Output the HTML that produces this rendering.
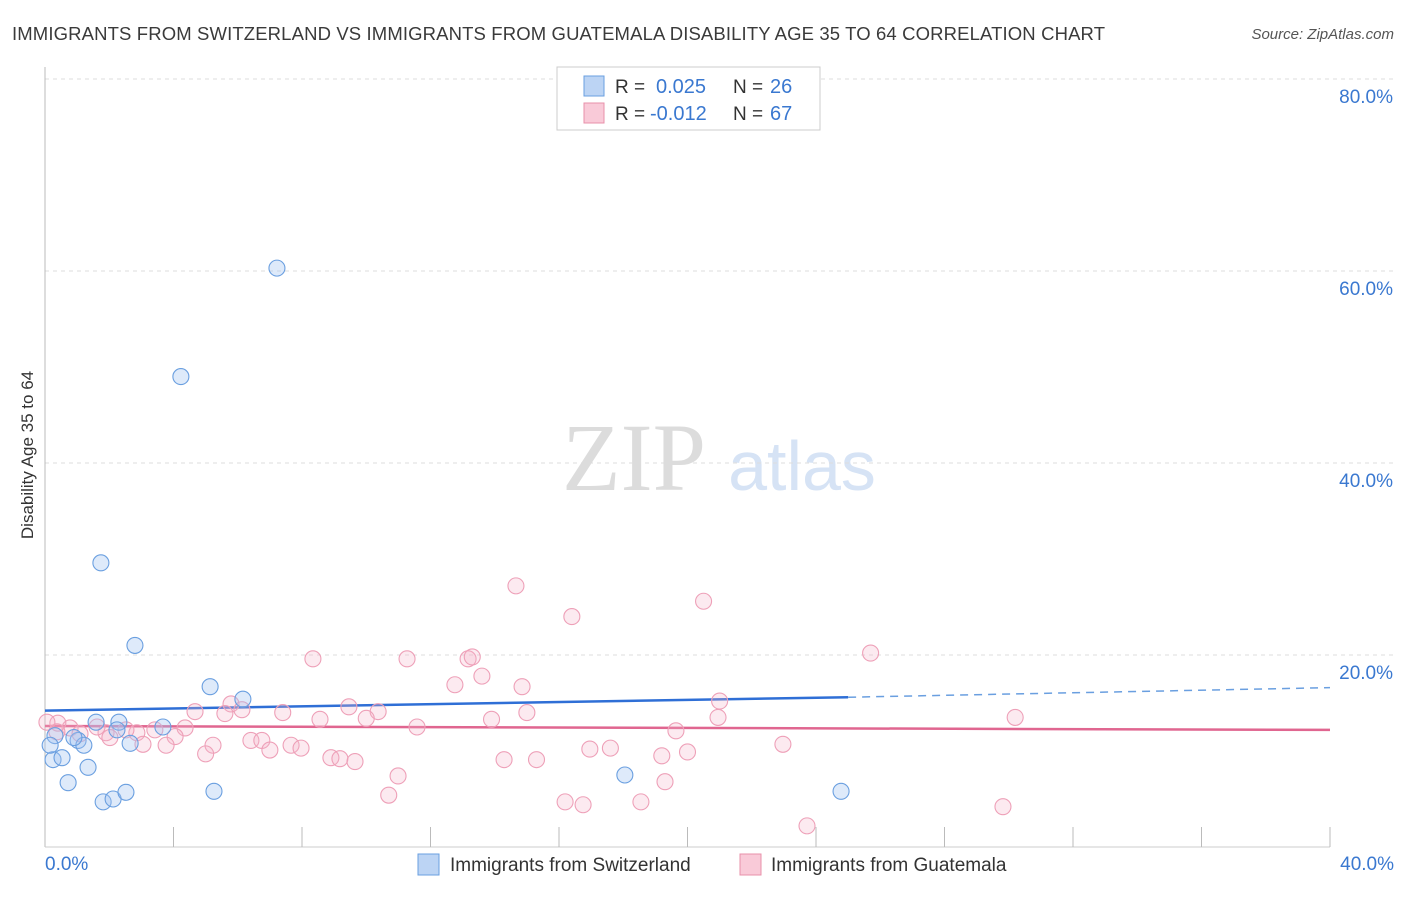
<!DOCTYPE html>
<html><head><meta charset="utf-8">
<style>
body{margin:0;background:#fff;font-family:"Liberation Sans",sans-serif;}
</style></head><body>
<svg id="chart" width="1406" height="892" xmlns="http://www.w3.org/2000/svg" font-family="Liberation Sans, sans-serif">
<text x="12" y="40" font-size="18.5" fill="#3a3a3a" textLength="1093">IMMIGRANTS FROM SWITZERLAND VS IMMIGRANTS FROM GUATEMALA DISABILITY AGE 35 TO 64 CORRELATION CHART</text>
<text x="1394" y="39" font-size="15" fill="#555" font-style="italic" text-anchor="end">Source: ZipAtlas.com</text>
<g>
<text x="634" y="490" font-size="96" fill="#dcdcdc" style="font-family:'Liberation Serif',serif" text-anchor="middle">ZIP</text>
<text x="802" y="490" font-size="70" fill="#d6e3f5" text-anchor="middle">atlas</text>
</g>
<g id="grid"></g>
<g id="axes"></g>
<g id="lines"></g>
<g id="points"></g>
<text transform="translate(33,455) rotate(-90)" font-size="17" fill="#333" text-anchor="middle">Disability Age 35 to 64</text>
<g>
<rect x="557" y="67" width="263" height="63" fill="#fff" stroke="#ccc"/>
<rect x="584" y="76" width="20" height="20" fill="#bcd4f4" stroke="#6a9fe0"/>
<rect x="584" y="103" width="20" height="20" fill="#f9cad8" stroke="#e890aa"/>
<text x="615" y="93" font-size="19" fill="#333">R =</text>
<text x="656" y="93" font-size="20" fill="#3a78d0">0.025</text>
<text x="733" y="93" font-size="19" fill="#333">N =</text>
<text x="770" y="93" font-size="20" fill="#3a78d0">26</text>
<text x="615" y="120" font-size="19" fill="#333">R =</text>
<text x="650" y="120" font-size="20" fill="#3a78d0">-0.012</text>
<text x="733" y="120" font-size="19" fill="#333">N =</text>
<text x="770" y="120" font-size="20" fill="#3a78d0">67</text>
</g>
<g>
<rect x="418" y="854" width="21" height="21" fill="#bcd4f4" stroke="#6a9fe0"/>
<text x="450" y="871" font-size="19" fill="#333">Immigrants from Switzerland</text>
<rect x="740" y="854" width="21" height="21" fill="#f9cad8" stroke="#e890aa"/>
<text x="771" y="871" font-size="19" fill="#333">Immigrants from Guatemala</text>
</g>
</svg>
<script>
const yTicks=[20,40,60,80];
const xTickLabels=["0.0%","40.0%"];
const blueX=[7.22,4.23,1.74,2.8,5.14,6.16,1.59,2.3,3.67,2.24,1.03,1.21,2.65,0.25,0.53,1.34,0.72,1.81,2.12,2.52,5.26,18.05,24.78,0.31,0.9,0.16];
const blueY=[60.3,49.0,29.6,21.0,16.7,15.4,13.0,13.0,12.5,12.2,11.1,10.6,10.8,9.1,9.3,8.3,6.7,4.7,5.0,5.7,5.8,7.5,5.8,11.6,11.4,10.6];
const pinkX=[14.66,20.5,16.4,25.7,8.34,11.27,13.17,13.3,13.6,12.76,14.85,21.0,5.79,6.13,4.67,5.6,7.4,9.46,10.37,10.0,8.56,15.0,13.9,20.95,30.2,11.58,19.64,4.36,3.42,2.86,2.52,1.9,1.62,0.78,0.4,0.37,2.02,4.05,3.05,3.77,5.23,5.0,6.41,6.75,7.0,7.66,7.97,22.97,16.96,17.6,20.0,19.2,8.9,9.18,9.65,14.29,15.3,10.99,19.3,10.7,16.19,16.75,18.55,29.82,23.72,1.09,0.06];
const pinkY=[27.2,25.6,24.0,20.2,19.6,19.6,19.6,19.8,17.8,16.9,16.7,15.2,14.9,14.3,14.1,13.9,14.0,14.6,14.1,13.4,13.3,14.0,13.3,13.5,13.5,12.5,12.1,12.4,12.2,11.9,12.2,11.9,12.5,12.4,12.9,12.0,11.4,11.5,10.7,10.6,10.6,9.7,11.1,11.1,10.1,10.6,10.3,10.7,10.2,10.3,9.9,9.5,9.3,9.2,8.9,9.1,9.1,7.4,6.8,5.4,4.7,4.4,4.7,4.2,2.2,11.8,13.0];
const blueTrend=[14.2,15.6,16.6];
const pinkTrend=[12.6,12.2];
const NS="http://www.w3.org/2000/svg";
const X=v=>45+v*(1285/40), Y=v=>847-v*9.6;
function mk(tag,attrs,parent){const e=document.createElementNS(NS,tag);for(const k in attrs)e.setAttribute(k,attrs[k]);document.getElementById(parent).appendChild(e);return e;}
yTicks.forEach(t=>{
 const g=mk('line',{x1:45,x2:1394,y1:Y(t),y2:Y(t),stroke:'#ddd','stroke-dasharray':'4,4'},'grid');
 
 
 const l=mk('text',{x:1393,y:Y(t)+24,'font-size':19,fill:'#3a78d0','text-anchor':'end'},'grid');
 l.textContent=t.toFixed(1)+'%';
 
 
});
const ax=mk('line',{x1:45,x2:45,y1:67,y2:847,stroke:'#bbb'},'axes');


const bx=mk('line',{x1:45,x2:1330,y1:847,y2:847,stroke:'#ccc'},'axes');


for(let i=1;i<=10;i++){const t=mk('line',{x1:X(i*4),x2:X(i*4),y1:827,y2:847,stroke:'#bbb'},'axes');
 
 }
[[0,'start',45],[1,'end',1394]].forEach(([i,a,x])=>{const t=mk('text',{x:x,y:870,'font-size':19,fill:'#3a78d0','text-anchor':a},'axes');t.textContent=xTickLabels[i];
 
 });
let l1=mk('line',{x1:X(0),y1:Y(blueTrend[0]),x2:X(25),y2:Y(blueTrend[1]),stroke:'#2f6fd6','stroke-width':2.5},'lines');


let l2=mk('line',{x1:X(25),y1:Y(blueTrend[1]),x2:X(40),y2:Y(blueTrend[2]),stroke:'#6a9fe0','stroke-width':1.5,'stroke-dasharray':'8,6'},'lines');


let l3=mk('line',{x1:X(0),y1:Y(pinkTrend[0]),x2:X(40),y2:Y(pinkTrend[1]),stroke:'#e06690','stroke-width':2.5},'lines');


pinkX.forEach((x,i)=>{const c=mk('circle',{cx:X(x),cy:Y(pinkY[i]),r:8,fill:'rgba(246,180,202,0.28)',stroke:'#eea0b8','stroke-width':1.1},'points');
 
 });
blueX.forEach((x,i)=>{const c=mk('circle',{cx:X(x),cy:Y(blueY[i]),r:8,fill:'rgba(160,195,240,0.35)',stroke:'#6a9fe0','stroke-width':1.1},'points');
 
 });
</script>
</body></html>
